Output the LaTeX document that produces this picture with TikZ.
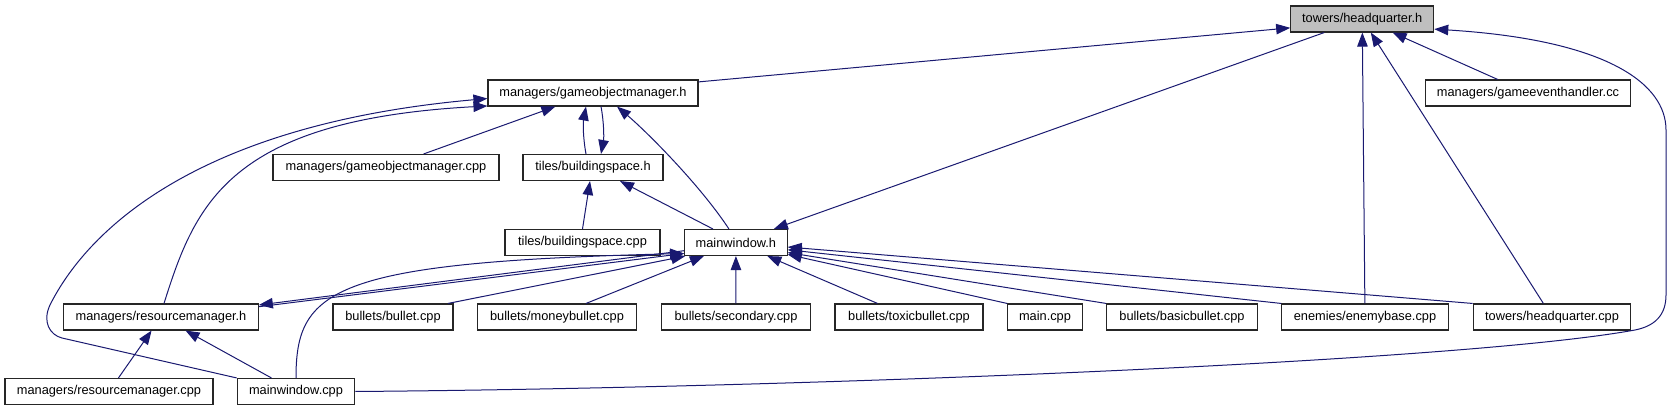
\documentclass[tikz,border=0pt]{standalone}
\usepackage{fontspec}
\setmainfont{Liberation Sans}
\usetikzlibrary{arrows.meta}
\definecolor{inclblue}{HTML}{191970}
\definecolor{hqgray}{HTML}{BFBFBF}

\begin{document}
\begin{tikzpicture}[x=1pt,y=-1pt,font=\fontsize{12.8}{15}\selectfont,
  filebox/.style={draw=black!85,line width=1.1pt,fill=white,minimum height=26pt,inner sep=0pt},
  incl/.style={inclblue,line width=1pt,-{Triangle[length=14pt,width=10.5pt]}}]
  \def\rowa{19}
  \def\rowb{93}
  \def\rowc{167.5}
  \def\rowd{242.5}
  \def\rowe{317}
  \def\rowf{391.5}
  \useasboundingbox (0,0) rectangle (1675,411);

  \node[filebox,fill=hqgray,minimum width=143pt] (hq) at (1362.2,\rowa) {towers/headquarter.h};
  \node[filebox,minimum width=205pt] (gec) at (1528,\rowb) {managers/gameeventhandler.cc};
  \node[filebox,minimum width=210pt] (gomh) at (593,\rowb) {managers/gameobjectmanager.h};
  \node[filebox,minimum width=226pt] (gomcpp) at (386,\rowc) {managers/gameobjectmanager.cpp};
  \node[filebox,minimum width=140pt] (bsh) at (593,\rowc) {tiles/buildingspace.h};
  \node[filebox,minimum width=155pt] (bscpp) at (582.5,\rowd) {tiles/buildingspace.cpp};
  \node[filebox,minimum width=102.5pt] (mwh) at (735.9,\rowd) {mainwindow.h};
  \node[filebox,minimum width=194.6pt] (rmh) at (161,\rowe) {managers/resourcemanager.h};
  \node[filebox,minimum width=120pt] (bullet) at (393,\rowe) {bullets/bullet.cpp};
  \node[filebox,minimum width=158.5pt] (money) at (557,\rowe) {bullets/moneybullet.cpp};
  \node[filebox,minimum width=149pt] (secondary) at (736,\rowe) {bullets/secondary.cpp};
  \node[filebox,minimum width=148pt] (toxic) at (909,\rowe) {bullets/toxicbullet.cpp};
  \node[filebox,minimum width=74.6pt] (main) at (1045,\rowe) {main.cpp};
  \node[filebox,minimum width=150.7pt] (basic) at (1182,\rowe) {bullets/basicbullet.cpp};
  \node[filebox,minimum width=166.5pt] (enemy) at (1365,\rowe) {enemies/enemybase.cpp};
  \node[filebox,minimum width=157.7pt] (hqcpp) at (1552,\rowe) {towers/headquarter.cpp};
  \node[filebox,minimum width=208pt] (rmcpp) at (109,\rowf) {managers/resourcemanager.cpp};
  \node[filebox,minimum width=117.5pt] (mwcpp) at (296,\rowf) {mainwindow.cpp};

  \draw[incl] (gomh.6) -- (hq.-173);
  \draw[incl] (enemy) -- (hq);
  \draw[incl] (hqcpp) -- (hq);
  \draw[incl] (gec) -- (hq);
  \draw[incl] (mwcpp.east) .. controls (800,388) and (1460,362) .. (1635,330)
    .. controls (1655,326) and (1666,315) .. (1666,295) -- (1666,130)
    .. controls (1666,85) and (1610,40) .. (hq.-8);

  \draw[incl] (gomcpp) -- (gomh);
  \draw[incl] ([xshift=-7pt]bsh.north) .. controls +(-3,-16) and +(-3,16) .. ([xshift=-7pt]gomh.south);
  \draw[incl] ([xshift=8pt]gomh.south) .. controls +(3,16) and +(3,-16) .. ([xshift=8pt]bsh.north);
  \draw[incl] ([xshift=-7pt]mwh.north) .. controls (700,185) and (647,132) .. ([xshift=24pt]gomh.south);
  \draw[incl] ([xshift=3pt]rmh.north) .. controls (195,205) and (228,120) .. (gomh.-173);
  \draw[incl] (mwcpp.north west) -- (62,338) .. controls (50,335) and (42,322) .. (50,305)
    .. controls (85,235) and (190,125) .. (gomh.-177);

  \draw[incl] (bscpp.north) -- ([xshift=-3pt]bsh.south);
  \draw[incl] ([xshift=-23pt]mwh.north) -- ([xshift=27pt]bsh.south);

  \draw[incl] (hq) -- (mwh);
  \draw[incl] (rmh.6) -- (mwh.-168);
  \draw[incl] (mwh.-171) -- (rmh.7);
  \draw[incl] ([xshift=55pt]bullet.north) -- (mwh.-165);
  \draw[incl] ([xshift=29pt]money.north) -- ([xshift=-32pt]mwh.south);
  \draw[incl] (secondary) -- (mwh);
  \draw[incl] (toxic) -- (mwh);
  \draw[incl] (main.north west) -- (mwh.-13);
  \draw[incl] (basic.north west) -- (mwh.-11);
  \draw[incl] (enemy.north west) -- (mwh.-8);
  \draw[incl] (hqcpp.north west) -- (mwh.-5);
  \draw[incl] (mwcpp.north) .. controls (296,290) and (330,262) .. (mwh.-168);

  \draw[incl] (rmcpp) -- (rmh);
  \draw[incl] (mwcpp) -- (rmh);
\end{tikzpicture}
\end{document}
